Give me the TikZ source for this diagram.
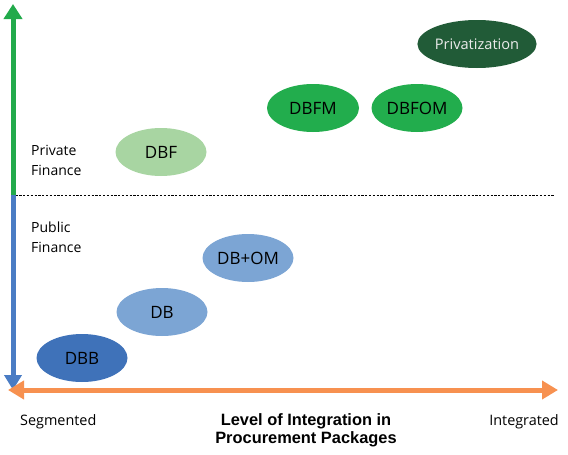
\documentclass[tikz,border=0pt]{standalone}
\usepackage{fontspec}
\setmainfont{Open Sans}
\newfontfamily\titlefont{Liberation Sans}
\usetikzlibrary{arrows.meta,shapes.geometric}
\definecolor{cGreenAx}{HTML}{22AA4B}
\definecolor{cBlueAx}{HTML}{4A7CC4}
\definecolor{cOrange}{HTML}{F79150}
\definecolor{cDBB}{HTML}{3F72B9}
\definecolor{cLBlue}{HTML}{7CA5D4}
\definecolor{cLGreen}{HTML}{A8D5A2}
\definecolor{cGreen}{HTML}{22AD4D}
\definecolor{cDGreen}{HTML}{215B37}
\tikzset{
  oval/.style={ellipse, inner sep=0pt, minimum width=91pt, minimum height=48pt, font=\fontsize{17}{19}\selectfont, text=black},
  axlabel/.style={font=\fontsize{14}{20}\selectfont, align=left, inner sep=0pt},
  endlabel/.style={font=\fontsize{14.4}{16}\selectfont, inner sep=0pt},
}
\begin{document}
\begin{tikzpicture}[x=1pt,y=-1pt]
\useasboundingbox (0,0) rectangle (568,455);
% axes
\coordinate (mid) at (13,195);
\coordinate (top) at (13,4);
\coordinate (bot) at (13,390);
\coordinate (lft) at (8,390);
\coordinate (rgt) at (558,390);
\coordinate (dotend) at (555,195);
\draw[cGreenAx, line width=5pt, -{Triangle[width=18pt,length=15pt]}] (mid) -- (top);
\draw[cBlueAx, line width=5pt, -{Triangle[width=17pt,length=15pt]}] (mid) -- (bot);
\draw[cOrange, line width=5pt, {Triangle[width=18pt,length=16pt]}-{Triangle[width=18pt,length=16pt]}] (lft) -- (rgt);
\draw[black, line width=1pt, dash pattern=on 2.2pt off 1.6pt] ([xshift=2.5pt]mid) -- (dotend);
% ovals
\node[oval, fill=cDBB] (dbb) at (82,358) {DBB};
\node[oval, fill=cLBlue] (db) at (162,312) {DB};
\node[oval, fill=cLBlue] (dbom) at (248,258) {DB+OM};
\node[oval, fill=cLGreen] (dbf) at (161,152) {DBF};
\node[oval, fill=cGreen, minimum width=92pt] (dbfm) at (313,108) {DBFM};
\node[oval, fill=cGreen] (dbfom) at (417,108) {DBFOM};
\node[oval, fill=cDGreen, text=white!92!black, minimum width=112pt, font=\fontsize{14.6}{18}\selectfont] (priv) at (477,44) {Privatization};
% labels
\node[axlabel, anchor=west] (pf) at (31,160) {Private\\Finance};
\node[axlabel, anchor=west] (pubf) at (31,237) {Public\\Finance};
\node[endlabel, anchor=base west] (seg) at (20,425) {Segmented};
\node[endlabel, anchor=base east] (integ) at (559,425) {Integrated};
\node[font=\titlefont\bfseries\fontsize{16.4}{18}\selectfont, align=center, inner sep=0pt] (title) at (306,430) {Level of Integration in\\Procurement Packages};
\end{tikzpicture}
\end{document}
